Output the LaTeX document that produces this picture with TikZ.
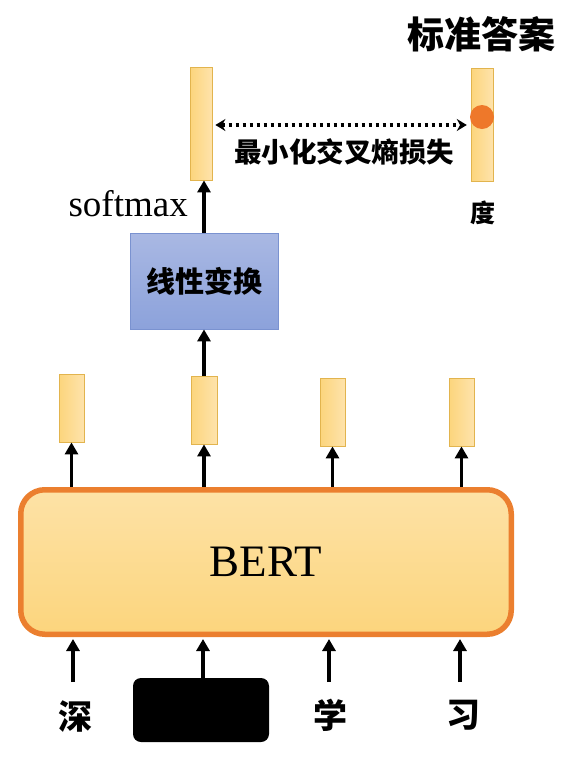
\documentclass[tikz,border=0pt]{standalone}
\usepackage{fontspec}
\setmainfont{Liberation Serif}
\newfontfamily\cjk{Noto Sans CJK SC}
\usetikzlibrary{arrows.meta}
\definecolor{barL}{HTML}{FCD57C}
\definecolor{barR}{HTML}{FEE3AC}
\definecolor{barB}{HTML}{E2B44E}
\definecolor{bertT}{HTML}{FDE2A6}
\definecolor{bertB}{HTML}{FCD57D}
\definecolor{bertO}{HTML}{EB7F2F}
\definecolor{linT}{HTML}{A9B8E3}
\definecolor{linB}{HTML}{8CA2DB}
\definecolor{linO}{HTML}{7A92D0}
\definecolor{dotC}{HTML}{EE782A}
\tikzset{
  vecbar/.style={draw=barB, line width=0.8pt, left color=barL, right color=barR, inner sep=0pt, minimum width=#1, minimum height=68},
  vecbar/.default=25,
  arr/.style={line width=3.3pt, -{Triangle[width=13pt,length=12pt]}},
  cjkt/.style={font=\cjk\bfseries\fontsize{#1}{#1}\selectfont, inner sep=0pt},
}
\begin{document}
\begin{tikzpicture}[x=1pt,y=-1pt]
\useasboundingbox (0,0) rectangle (571,769);
% title
\node[cjkt=37] (title) at (481,34) {标准答案};
% top bars
\node[vecbar=22, minimum height=113] (outbar) at (201,123.5) {};
\node[vecbar=22, minimum height=113] (gold) at (482,124.5) {};
\node[circle, fill=dotC, inner sep=0pt, minimum size=24] (hot) at (482,117) {};
\draw[line width=3.6pt, dash pattern=on 3.6pt off 3.4pt, {Stealth[width=12pt,length=10pt]}-{Stealth[width=12pt,length=10pt]}, shorten <=3pt, shorten >=3pt]
  ([yshift=-1.5pt]outbar.east) -- ([yshift=-0.5pt]gold.west -| hot.west) coordinate (lossend);
\node[cjkt=27.5] (loss) at (344,152) {最小化交叉熵损失};
\node[cjkt=25] (du) at (483,213) {度};
% softmax + linear
\node[anchor=east, inner sep=0pt, font=\fontsize{37}{37}\selectfont] (sm) at (188,204) {softmax};
\node[draw=linO, line width=0.8pt, top color=linT, bottom color=linB, minimum width=148, minimum height=96, inner sep=0pt, cjkt=29] (lin) at (204,281) {线性变换};
\draw[arr] (lin.north) -- (lin.north |- outbar.south);
% bert output bars
\node[vecbar] (b1) at (71.5,408) {};
\node[vecbar=26] (b2) at (204,410) {};
\node[vecbar] (b3) at (332.5,412) {};
\node[vecbar] (b4) at (461.5,412) {};
\draw[arr] (b2.north) -- (b2.north |- lin.south);
% BERT
\node[draw=bertO, line width=5.5pt, rounded corners=24pt, top color=bertT, bottom color=bertB, minimum width=490.5, minimum height=144.5, inner sep=0pt, font=\fontsize{45}{45}\selectfont] (bert) at (266,562) {BERT};
\draw[arr] (b1.south |- bert.north) -- (b1.south);
\draw[arr] (b2.south |- bert.north) -- (b2.south);
\draw[arr] (b3.south |- bert.north) -- (b3.south);
\draw[arr] (b4.south |- bert.north) -- (b4.south);
% inputs
\node[cjkt=34] (w1) at (75,717) {深};
\node[fill=black, rounded corners=8pt, minimum width=136, minimum height=64, inner sep=0pt] (mask) at (201,710) {};
\node[cjkt=34] (w3) at (330,715) {学};
\node[cjkt=34] (w4) at (463,715) {习};
\coordinate (s1) at (73,682);
\coordinate (s3) at (329,682);
\coordinate (s4) at (460,682);
\draw[arr] (s1) -- ([yshift=-2pt]s1 |- bert.south);
\draw[arr] ([xshift=2pt]mask.north) -- ([xshift=2pt,yshift=-2pt]mask.north |- bert.south);
\draw[arr] (s3) -- ([yshift=-2pt]s3 |- bert.south);
\draw[arr] (s4) -- ([yshift=-2pt]s4 |- bert.south);
\end{tikzpicture}
\end{document}
